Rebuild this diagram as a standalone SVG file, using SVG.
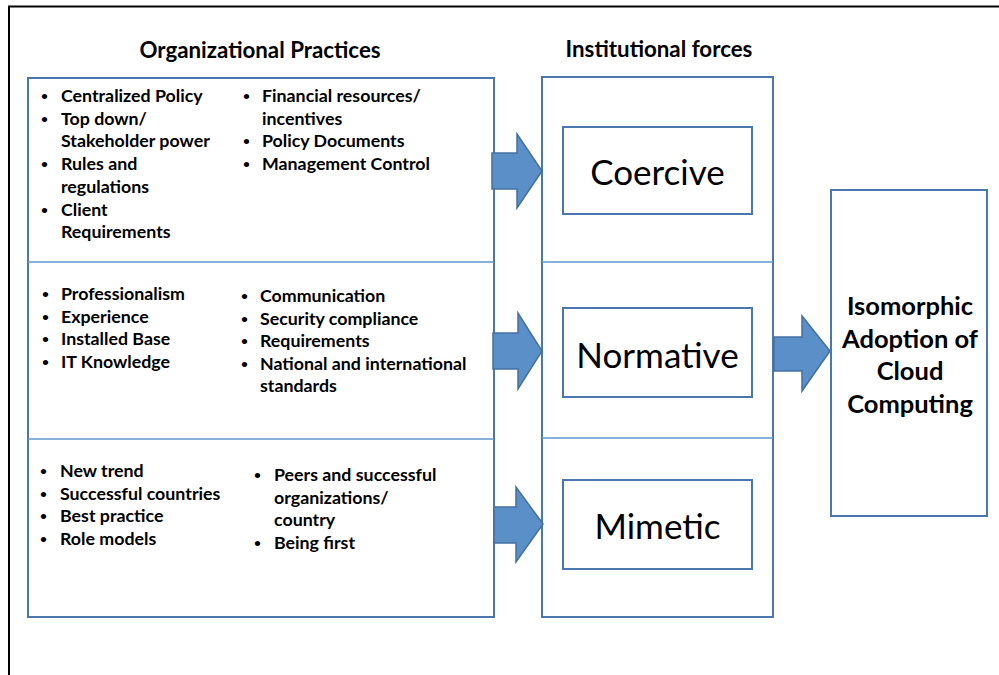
<svg xmlns="http://www.w3.org/2000/svg" width="999" height="675" viewBox="0 0 999 675">
<style>
.box{fill:#fff;stroke:#4a78ae;stroke-width:2}
.div{stroke:#6295cf;stroke-width:1.5;fill:none}
.arr{fill:#5b8fc8;stroke:#44709f;stroke-width:1.5;stroke-linejoin:miter}
.b{font-family:Lato,"Liberation Sans",sans-serif;font-weight:bold;font-size:17.8px;fill:#000}
.d{font-size:12px}
.t{font-family:Lato,"Liberation Sans",sans-serif;font-weight:bold;font-size:22.3px;fill:#000;text-anchor:middle}
.f{font-family:Lato,"Liberation Sans",sans-serif;font-size:35px;fill:#000;text-anchor:middle}
.r{font-family:Lato,"Liberation Sans",sans-serif;font-weight:bold;font-size:25.5px;fill:#000;text-anchor:middle}
</style>
<rect width="999" height="675" fill="#fff"/>
<path d="M9,675 V6.5 H999" fill="none" stroke="#000" stroke-width="2"/>
<text class="t" x="260" y="58">Organizational Practices</text>
<text class="t" x="659" y="57">Institutional forces</text>
<g id="practices">
<rect class="box" x="28" y="78" width="466" height="539"/>
<line class="div" x1="28" y1="262" x2="494" y2="262"/>
<line class="div" x1="28" y1="439" x2="494" y2="439"/>
</g>
<g id="coercive-practices">
<text class="b"><tspan class="d" x="41" y="100">•</tspan><tspan x="61" y="102">Centralized Policy</tspan>
<tspan class="d" x="41" y="122.7">•</tspan><tspan x="61" y="124.7">Top down/</tspan>
<tspan x="61" y="147.4">Stakeholder power</tspan>
<tspan class="d" x="41" y="168">•</tspan><tspan x="61" y="170">Rules and</tspan>
<tspan x="61" y="192.8">regulations</tspan>
<tspan class="d" x="41" y="213.5">•</tspan><tspan x="61" y="215.5">Client</tspan>
<tspan x="61" y="238">Requirements</tspan></text>
<text class="b"><tspan class="d" x="243" y="100">•</tspan><tspan x="262" y="102">Financial resources/</tspan>
<tspan x="262" y="124.7">incentives</tspan>
<tspan class="d" x="243" y="145.4">•</tspan><tspan x="262" y="147.4">Policy Documents</tspan>
<tspan class="d" x="243" y="168">•</tspan><tspan x="262" y="170">Management Control</tspan></text>
</g>
<g id="normative-practices">
<text class="b"><tspan class="d" x="42" y="298">•</tspan><tspan x="61" y="300">Professionalism</tspan>
<tspan class="d" x="42" y="320.5">•</tspan><tspan x="61" y="322.5">Experience</tspan>
<tspan class="d" x="42" y="343">•</tspan><tspan x="61" y="345">Installed Base</tspan>
<tspan class="d" x="42" y="365.5">•</tspan><tspan x="61" y="367.5">IT Knowledge</tspan></text>
<text class="b"><tspan class="d" x="241" y="300">•</tspan><tspan x="260" y="302">Communication</tspan>
<tspan class="d" x="241" y="322.5">•</tspan><tspan x="260" y="324.5">Security compliance</tspan>
<tspan class="d" x="241" y="345">•</tspan><tspan x="260" y="347">Requirements</tspan>
<tspan class="d" x="241" y="367.5">•</tspan><tspan x="260" y="369.5">National and international</tspan>
<tspan x="260" y="392">standards</tspan></text>
</g>
<g id="mimetic-practices">
<text class="b"><tspan class="d" x="40" y="475">•</tspan><tspan x="60" y="477">New trend</tspan>
<tspan class="d" x="40" y="497.5">•</tspan><tspan x="60" y="499.5">Successful countries</tspan>
<tspan class="d" x="40" y="520">•</tspan><tspan x="60" y="522">Best practice</tspan>
<tspan class="d" x="40" y="542.5">•</tspan><tspan x="60" y="544.5">Role models</tspan></text>
<text class="b"><tspan class="d" x="254" y="479">•</tspan><tspan x="274" y="481">Peers and successful</tspan>
<tspan x="274" y="503.5">organizations/</tspan>
<tspan x="274" y="526">country</tspan>
<tspan class="d" x="254" y="546.5">•</tspan><tspan x="274" y="548.5">Being first</tspan></text>
</g>
<g id="forces">
<rect class="box" x="542" y="77" width="231" height="540"/>
<line class="div" x1="542" y1="262" x2="773" y2="262"/>
<line class="div" x1="542" y1="438" x2="773" y2="438"/>
</g>
<g id="coercive">
<rect class="box" x="563" y="127" width="189" height="87"/>
<text class="f" x="657.5" y="185">Coercive</text>
</g>
<g id="normative">
<rect class="box" x="563" y="308" width="189" height="89"/>
<text class="f" x="657.5" y="368">Normative</text>
</g>
<g id="mimetic">
<rect class="box" x="563" y="480" width="189" height="89"/>
<text class="f" x="657.5" y="539">Mimetic</text>
</g>
<g id="adoption">
<rect class="box" x="831" y="190" width="156" height="326"/>
<text class="r"><tspan x="910" y="315">Isomorphic</tspan><tspan x="910" y="347.7">Adoption of</tspan><tspan x="910" y="380.4">Cloud</tspan><tspan x="910" y="413">Computing</tspan></text>
</g>
<g id="connectors">
<path class="arr" d="M492,153 H517 V134 L542,171 L517,208 V189 H492 Z"/>
<path class="arr" d="M493,333 H518 V313 L542,351 L518,389 V369 H493 Z"/>
<path class="arr" d="M494,507 H516 V487 L543,524 L516,562 V543 H494 Z"/>
<path class="arr" d="M774,337 H802 V316 L830,351 L802,391 V371 H774 Z"/>
</g>
</svg>
